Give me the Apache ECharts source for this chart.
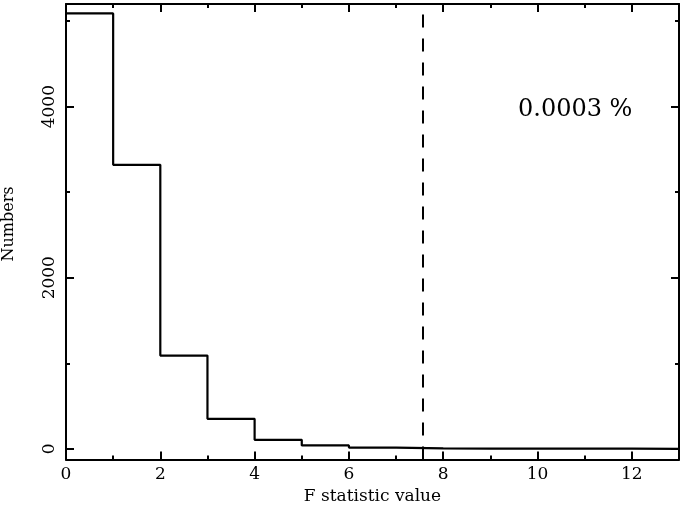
<!DOCTYPE html>
<html><head><meta charset="utf-8">
<script src="https://cdn.jsdelivr.net/npm/echarts@6/dist/echarts.min.js"></script>
<style>html,body{margin:0;padding:0;background:#fff}#c{width:683px;height:505px}</style>
</head><body><div id="c"></div>
<script>
// Histogram bin left edges and counts
const binEdges = [0,1,2,3,4,5,6,7,8,9,10,11,12,13];
const counts = [5090,3320,1090,350,105,40,14,6,3,2,1,1,0];
const xTicks = [0,2,4,6,8,10,12];
const yMajorTicks = [0,2000,4000];
const yMinorTicks = [1000,3000,5000];
const thresholdX = 7.56;
const annotation = '0.0003 %';
const xName = 'F statistic value';
const yName = 'Numbers';

const font = 'DejaVu Serif';
const stepData = binEdges.map((e,i)=>[e, i<counts.length?counts[i]:counts[counts.length-1]]);

const yMin = -125, yMax = 5200;
function yAx(pos, ticks, len, showLine, labels){
  return {type:'value', position:pos, min:yMin, max:yMax,
    axisLine:{show:showLine, lineStyle:{color:'#000', width:2}},
    axisTick:{show:true, inside:true, length:len, customValues:ticks, lineStyle:{color:'#000', width:2}},
    axisLabel:labels?{show:true, customValues:ticks, rotate:90, margin:8, color:'#000', fontFamily:font, fontSize:17,
      formatter:v=>String(v)}:{show:false},
    splitLine:{show:false}
  };
}
function xAx(pos, labels){
  return {type:'value', position:pos, min:0, max:13, interval:2,
    axisLine:{show:true, onZero:false, lineStyle:{color:'#000', width:2}},
    axisTick:{show:true, inside:true, length:8, lineStyle:{color:'#000', width:2}},
    minorTick:{show:true, splitNumber:2, length:4, lineStyle:{color:'#000', width:2}},
    axisLabel:labels?{show:true, margin:7, color:'#000', fontFamily:font, fontSize:17,
      customValues:xTicks, formatter:v=>String(v)}:{show:false},
    splitLine:{show:false}, minorSplitLine:{show:false},
    name: labels?xName:'', nameLocation:'middle', nameGap:25,
    nameTextStyle:{color:'#000', fontFamily:font, fontSize:17}
  };
}
const chart = echarts.init(document.getElementById('c'), null, {renderer:'canvas'});
chart.setOption({
  animation:false,
  backgroundColor:'#fff',
  grid:{left:66, right:4, top:4, bottom:45.5, containLabel:false, outerBoundsMode:'none'},
  xAxis:[xAx('bottom', true), xAx('top', false)],
  yAxis:[yAx('left', yMajorTicks, 8, true, true), yAx('left', yMinorTicks, 4, false, false),
         yAx('right', yMajorTicks, 8, true, false), yAx('right', yMinorTicks, 4, false, false)],
  series:[{
    type:'line', step:'end', data:stepData, xAxisIndex:0, yAxisIndex:0,
    symbol:'none', lineStyle:{color:'#000', width:2.2}, clip:true,
    markLine:{silent:true, symbol:'none', label:{show:false},
      lineStyle:{color:'#000', width:2, type:[13,11]},
      data:[{xAxis:thresholdX}]}
  }],
  graphic:[
    {type:'text', left:518, top:98, style:{text:annotation, fill:'#000', font:'24px "DejaVu Serif"'}},
    {type:'text', x:9, y:224, rotation:Math.PI/2,
      style:{text:yName, fill:'#000', font:'16px "DejaVu Serif"', align:'center', verticalAlign:'middle'}}
  ]
});
</script></body></html>
